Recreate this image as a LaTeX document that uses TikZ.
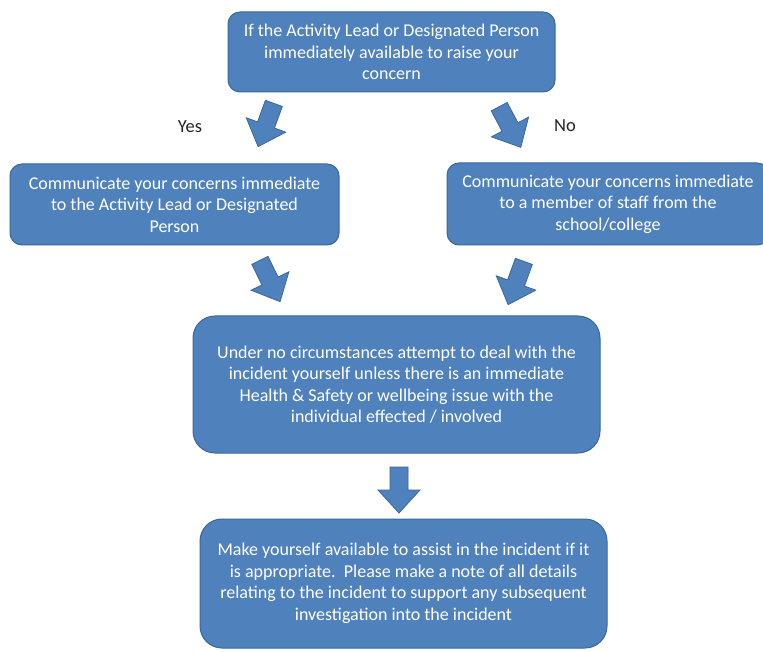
\documentclass[tikz,border=0pt]{standalone}
\usepackage{fontspec}
\setmainfont{Carlito}
\definecolor{boxblue}{HTML}{4F81BD}
\definecolor{boxborder}{HTML}{3A679C}
\definecolor{labelgray}{HTML}{262626}
\begin{document}
\begin{tikzpicture}[x=1pt,y=-1pt,
  box/.style={draw=boxborder, fill=boxblue, line width=1pt, text=white,
    align=center, font=\fontsize{18}{21.5}\selectfont, inner sep=0pt},
  smallbox/.style={box, rounded corners=12pt},
  bigbox/.style={box, rounded corners=22pt},
  yesno/.style={text=labelgray, font=\fontsize{18.5}{22}\selectfont, inner sep=0pt},
  barrow/.pic={\filldraw[fill=boxblue, draw=boxborder, line width=0.8pt]
    (-9,-23) -- (9,-23) -- (9,0) -- (21,0) -- (0,23) -- (-21,0) -- (-9,0) -- cycle;}
]
\useasboundingbox[fill=white] (0,0) rectangle (763,652);

\node[smallbox, minimum width=327pt, minimum height=80pt] (q) at (391.5,52)
  {If the Activity Lead or Designated Person\\immediately available to raise your\\concern};

\node[smallbox, minimum width=329pt, minimum height=81pt] (yesbox) at (174.5,204.5)
  {Communicate your concerns immediate\\to the Activity Lead or Designated\\Person};

\node[smallbox, minimum width=322pt, minimum height=82pt] (nobox) at (608,204)
  {Communicate your concerns immediate\\to a member of staff from the\\school/college};

\node[bigbox, minimum width=407pt, minimum height=137pt] (deal) at (396.5,384.5)
  {Under no circumstances attempt to deal with the\\incident yourself unless there is an immediate\\Health \& Safety or wellbeing issue with the\\individual effected / involved};

\node[bigbox, minimum width=407pt, minimum height=129pt] (assist) at (403.5,583.5)
  {\raisebox{-7pt}{\parbox{400pt}{\centering Make yourself available to assist in the incident if it\\is appropriate.\ \ Please make a note of all details\\relating to the incident to support any subsequent\\investigation into the incident}}};

\node[yesno] (yes) at (190,127) {Yes};
\node[yesno] (no) at (565,126) {No};

\pic[rotate=-20] (a1) at (266,125) {barrow};
\pic[rotate=28] (a2) at (510,127) {barrow};
\pic[rotate=26] (a3) at (270,281) {barrow};
\pic[rotate=-20] (a4) at (516,283) {barrow};
\pic (a5) at (399,490) {barrow};
\end{tikzpicture}
\end{document}
